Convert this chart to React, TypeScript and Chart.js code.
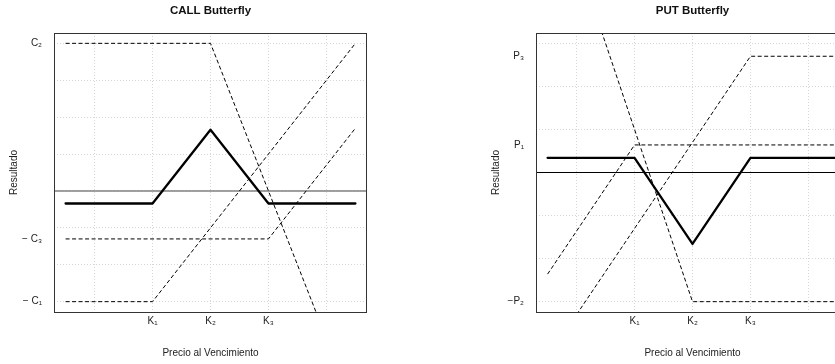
import React, { useEffect, useRef } from 'react';
import { Chart, registerables } from 'chart.js';

Chart.register(...registerables);

// ---------- shared x axis ----------
const xMin = 83;
const xMax = 137;
const xGridValues = [90, 100, 110, 120, 130];
const strikeValues = [100, 110, 120];
const strikeLabels = ['K₁', 'K₂', 'K₃'];

// ---------- CALL butterfly ----------
const callTitle = 'CALL Butterfly';
const callYMin = -16.4;
const callYMax = 21.4;
const callYGrid = [-15, -10, -5, 0, 5, 10, 15, 20];
const callYLabelValues = [20, -6.5, -15];
const callYLabels = ['C₂', '− C₃', '− C₁'];
const callLongK1 = [[85, -15], [100, -15], [135, 20]];
const callShort2K2 = [[85, 20], [110, 20], [135, -30]];
const callLongK3 = [[85, -6.5], [120, -6.5], [135, 8.5]];
const callNet = [[85, -1.7], [100, -1.7], [110, 8.3], [120, -1.7], [135, -1.7]];

// ---------- PUT butterfly ----------
const putTitle = 'PUT Butterfly';
const putYMin = -16.2;
const putYMax = 16.2;
const putYGrid = [-15, -10, -5, 0, 5, 10, 15];
const putYLabelValues = [13.5, 3.2, -15];
const putYLabels = ['P₃', 'P₁', '−P₂'];
const putShortK1 = [[85, -11.8], [100, 3.2], [135, 3.2]];
const putLong2K2 = [[85, 35], [110, -15], [135, -15]];
const putShortK3 = [[85, -21.5], [120, 13.5], [135, 13.5]];
const putNet = [[85, 1.7], [100, 1.7], [110, -8.3], [120, 1.7], [135, 1.7]];

const xTitleText = 'Precio al Vencimiento';
const yTitleText = 'Resultado';
const zeroValue = 0;

const FONT = '"Liberation Sans", Arial, Helvetica, sans-serif';

const decorPlugin = {
  id: 'panelDecor',
  beforeDatasetsDraw(chart: any, _args: any, opts: any) {
    const { ctx, chartArea } = chart;
    const y = chart.scales.y.getPixelForValue(zeroValue);
    ctx.save();
    ctx.strokeStyle = opts.zeroColor;
    ctx.lineWidth = opts.zeroWidth;
    ctx.beginPath();
    ctx.moveTo(chartArea.left, y);
    ctx.lineTo(chartArea.right, y);
    ctx.stroke();
    ctx.restore();
  },
  afterDraw(chart: any, _args: any, opts: any) {
    const { ctx, chartArea } = chart;
    const cx = (chartArea.left + chartArea.right) / 2;
    const cy = (chartArea.top + chartArea.bottom) / 2;
    ctx.save();
    ctx.strokeStyle = '#333';
    ctx.lineWidth = 1;
    ctx.strokeRect(chartArea.left + 0.5, chartArea.top + 0.5, chartArea.right - chartArea.left - 1, chartArea.bottom - chartArea.top);
    ctx.fillStyle = '#111';
    ctx.textAlign = 'center';
    ctx.textBaseline = 'middle';
    ctx.font = 'bold 11.5px ' + FONT;
    ctx.fillText(opts.title, cx, 11);
    ctx.fillStyle = '#222';
    ctx.font = '10px ' + FONT;
    ctx.fillText(xTitleText, cx, 353);
    ctx.translate(14, cy);
    ctx.rotate(-Math.PI / 2);
    ctx.fillText(yTitleText, 0, 0);
    ctx.restore();
  },
};

type PanelProps = {
  title: string;
  yMin: number;
  yMax: number;
  yGrid: number[];
  yLabelValues: number[];
  yLabels: string[];
  series: number[][][];
  netIndex: number;
  zeroColor: string;
  zeroWidth: number;
};

function Panel(p: PanelProps) {
  const ref = useRef<HTMLCanvasElement | null>(null);
  useEffect(() => {
    if (!ref.current) return;
    const datasets = p.series.map((s, i) => {
      const isNet = i === p.netIndex;
      return {
        data: s.map(([x, y]) => ({ x, y })),
        showLine: true,
        pointRadius: 0,
        borderColor: '#000',
        borderWidth: isNet ? 2.3 : 1,
        borderDash: isNet ? [] : [4, 2.5],
        borderCapStyle: isNet ? 'round' : 'butt',
        borderJoinStyle: isNet ? 'round' : 'miter',
        tension: 0,
        order: isNet ? 0 : 1,
      };
    });
    const chart = new Chart(ref.current, {
      type: 'scatter',
      data: { datasets: datasets as any },
      plugins: [decorPlugin],
      options: {
        animation: false,
        responsive: false,
        devicePixelRatio: 1,
        layout: { padding: { left: 0, right: 115, top: 33, bottom: 0 } },
        plugins: {
          legend: { display: false },
          tooltip: { enabled: false },
          panelDecor: { title: p.title, zeroColor: p.zeroColor, zeroWidth: p.zeroWidth },
        } as any,
        scales: {
          x: {
            type: 'linear',
            min: xMin,
            max: xMax,
            afterBuildTicks: (axis: any) => {
              axis.ticks = xGridValues.map((v) => ({ value: v }));
            },
            afterFit: (axis: any) => {
              axis.height = 52;
            },
            grid: { color: '#d6d6d6', lineWidth: 1, drawTicks: false },
            border: { display: false, dash: [1, 2] },
            ticks: {
              autoSkip: false,
              maxRotation: 0,
              padding: 3,
              color: '#222',
              font: { size: 10, family: FONT },
              callback: (v: any) => {
                const i = strikeValues.indexOf(Number(v));
                return i >= 0 ? strikeLabels[i] : '';
              },
            },
          },
          y: {
            type: 'linear',
            position: 'left',
            min: p.yMin,
            max: p.yMax,
            afterBuildTicks: (axis: any) => {
              axis.ticks = p.yGrid.map((v) => ({ value: v }));
            },
            afterFit: (axis: any) => {
              axis.width = 0;
            },
            grid: { color: '#d6d6d6', lineWidth: 1, drawTicks: false },
            border: { display: false, dash: [1, 2] },
            ticks: { display: false },
          },
          yl: {
            type: 'linear',
            position: 'left',
            min: p.yMin,
            max: p.yMax,
            afterBuildTicks: (axis: any) => {
              axis.ticks = p.yLabelValues.map((v) => ({ value: v }));
            },
            afterFit: (axis: any) => {
              axis.width = 54;
            },
            grid: { display: false, drawTicks: false },
            border: { display: false },
            ticks: {
              autoSkip: false,
              padding: 12,
              color: '#222',
              font: { size: 10, family: FONT },
              callback: (v: any) => {
                const i = p.yLabelValues.indexOf(Number(v));
                return i >= 0 ? p.yLabels[i] : '';
              },
            },
          },
        },
      } as any,
    });
    return () => chart.destroy();
  }, []);
  return <canvas ref={ref} width={482} height={364} style={{ width: 482, height: 364, display: 'block' }} />;
}

export default function App() {
  return (
    <div style={{ position: 'fixed', left: 0, top: 0, width: 835, height: 364, overflow: 'hidden', background: '#fff' }}>
      <div style={{ position: 'absolute', left: 0, top: 0 }}>
        <Panel
          title={callTitle}
          yMin={callYMin}
          yMax={callYMax}
          yGrid={callYGrid}
          yLabelValues={callYLabelValues}
          yLabels={callYLabels}
          series={[callLongK1, callShort2K2, callLongK3, callNet]}
          netIndex={3}
          zeroColor="#808080"
          zeroWidth={1.5}
        />
      </div>
      <div style={{ position: 'absolute', left: 482, top: 0 }}>
        <Panel
          title={putTitle}
          yMin={putYMin}
          yMax={putYMax}
          yGrid={putYGrid}
          yLabelValues={putYLabelValues}
          yLabels={putYLabels}
          series={[putShortK1, putLong2K2, putShortK3, putNet]}
          netIndex={3}
          zeroColor="#000"
          zeroWidth={1}
        />
      </div>
    </div>
  );
}
